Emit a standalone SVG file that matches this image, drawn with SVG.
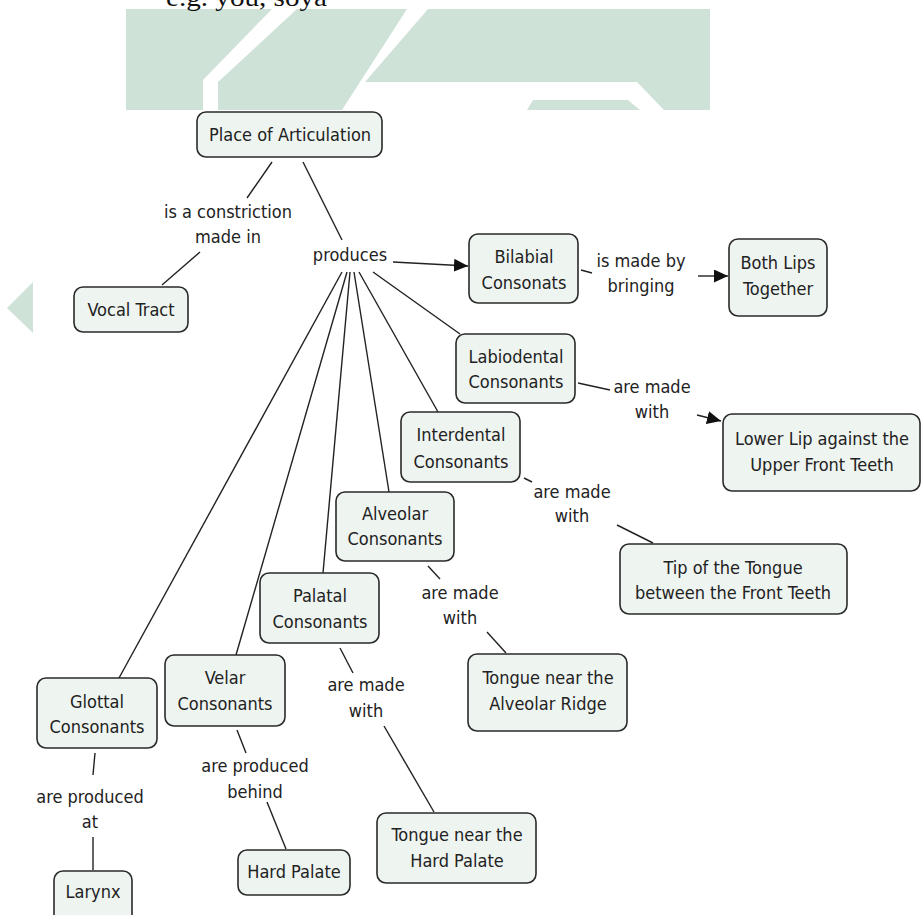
<svg xmlns="http://www.w3.org/2000/svg" width="922" height="915" viewBox="0 0 922 915">
<style>
.bg{fill:#cfe2d7}
.wh{fill:#ffffff}
.node rect{fill:#eef4f0;stroke:#2a2a2a;stroke-width:1.6}
text{font-family:'DejaVu Sans Condensed','DejaVu Sans',sans-serif;font-size:18px;fill:#222;text-anchor:middle}
.lbl{fill:#222}
.conn line{stroke:#222;stroke-width:1.4;fill:none}
.top{font-family:'Liberation Serif',serif;font-size:26px;fill:#111;text-anchor:start}
</style>
<defs>
<marker id="ah" markerUnits="userSpaceOnUse" markerWidth="15" markerHeight="13" refX="14" refY="6.5" orient="auto">
<path d="M0,0 L14,6.5 L0,13 z" fill="#111"/>
</marker>
</defs>
<rect width="922" height="915" fill="#ffffff"/>
<g id="watermark">
<rect class="bg" x="126" y="9" width="584" height="101"/>
<polygon class="wh" points="272,9 297,9 218,82 218,110 203,110 203,80"/>
<polygon class="wh" points="407,9 428,9 365,82 637,82 664,110 640,110 628,100 533,100 527,110 342,110"/>
<polygon class="bg" points="33,282 7,308 33,333"/>
</g>
<text class="top" x="166" y="6" textLength="161" lengthAdjust="spacingAndGlyphs">e.g. you, soya</text>
<g class="conn" id="connectors">
<line x1="272" y1="162" x2="247" y2="198"/>
<line x1="200" y1="252" x2="162" y2="285"/>
<line x1="303" y1="162" x2="342" y2="240"/>
<line x1="393" y1="262" x2="468" y2="266" marker-end="url(#ah)"/>
<line x1="581" y1="270" x2="592" y2="273"/>
<line x1="698" y1="276" x2="728" y2="276" marker-end="url(#ah)"/>
<line x1="578" y1="383" x2="610" y2="390"/>
<line x1="697" y1="415" x2="721" y2="421" marker-end="url(#ah)"/>
<line x1="373" y1="272" x2="460" y2="334"/>
<line x1="359" y1="272" x2="438" y2="412"/>
<line x1="354" y1="272" x2="389" y2="492"/>
<line x1="350" y1="272" x2="323" y2="573"/>
<line x1="347" y1="272" x2="236" y2="655"/>
<line x1="342" y1="272" x2="119" y2="678"/>
<line x1="524" y1="478" x2="532" y2="482"/>
<line x1="617" y1="525" x2="653" y2="543"/>
<line x1="428" y1="566" x2="440" y2="579"/>
<line x1="487" y1="632" x2="506" y2="653"/>
<line x1="340" y1="648" x2="353" y2="673"/>
<line x1="384" y1="726" x2="434" y2="812"/>
<line x1="237" y1="730" x2="246" y2="753"/>
<line x1="267" y1="802" x2="286" y2="849"/>
<line x1="95" y1="753" x2="93" y2="775"/>
<line x1="93" y1="837" x2="93" y2="870"/>
</g>
<g class="lbl" id="link-labels">
<text x="228" y="218">is a constriction</text><text x="228" y="243">made in</text>
<text x="350" y="261">produces</text>
<text x="641" y="267">is made by</text><text x="641" y="292">bringing</text>
<text x="652" y="393">are made</text><text x="652" y="418">with</text>
<text x="572" y="498">are made</text><text x="572" y="522">with</text>
<text x="460" y="599">are made</text><text x="460" y="624">with</text>
<text x="366" y="691">are made</text><text x="366" y="717">with</text>
<text x="255" y="772">are produced</text><text x="255" y="798">behind</text>
<text x="90" y="803">are produced</text><text x="90" y="828">at</text>
</g>
<g class="node" id="n-place"><rect x="197" y="112" width="185" height="45" rx="9"/><text x="290" y="141">Place of Articulation</text></g>
<g class="node" id="n-vocal"><rect x="74" y="287" width="114" height="45" rx="9"/><text x="131" y="316">Vocal Tract</text></g>
<g class="node" id="n-bilabial"><rect x="469" y="234" width="109" height="69" rx="9"/><text x="524" y="263">Bilabial</text><text x="524" y="289">Consonats</text></g>
<g class="node" id="n-bothlips"><rect x="729" y="239" width="98" height="77" rx="9"/><text x="778" y="269">Both Lips</text><text x="778" y="295">Together</text></g>
<g class="node" id="n-labio"><rect x="456" y="334" width="119" height="69" rx="9"/><text x="516" y="363">Labiodental</text><text x="516" y="388">Consonants</text></g>
<g class="node" id="n-lowerlip"><rect x="723" y="414" width="197" height="77" rx="9"/><text x="822" y="445">Lower Lip against the</text><text x="822" y="471">Upper Front Teeth</text></g>
<g class="node" id="n-inter"><rect x="401" y="412" width="119" height="70" rx="9"/><text x="461" y="441">Interdental</text><text x="461" y="468">Consonants</text></g>
<g class="node" id="n-tip"><rect x="620" y="544" width="227" height="70" rx="9"/><text x="733" y="574">Tip of the Tongue</text><text x="733" y="599">between the Front Teeth</text></g>
<g class="node" id="n-alveolar"><rect x="336" y="492" width="118" height="69" rx="9"/><text x="395" y="520">Alveolar</text><text x="395" y="545">Consonants</text></g>
<g class="node" id="n-palatal"><rect x="260" y="573" width="119" height="70" rx="9"/><text x="320" y="602">Palatal</text><text x="320" y="628">Consonants</text></g>
<g class="node" id="n-ridge"><rect x="468" y="654" width="159" height="77" rx="9"/><text x="548" y="684">Tongue near the</text><text x="548" y="710">Alveolar Ridge</text></g>
<g class="node" id="n-velar"><rect x="165" y="655" width="120" height="71" rx="9"/><text x="225" y="684">Velar</text><text x="225" y="710">Consonants</text></g>
<g class="node" id="n-glottal"><rect x="37" y="678" width="120" height="70" rx="9"/><text x="97" y="708">Glottal</text><text x="97" y="733">Consonants</text></g>
<g class="node" id="n-hardpalate-t"><rect x="377" y="813" width="159" height="70" rx="9"/><text x="457" y="841">Tongue near the</text><text x="457" y="867">Hard Palate</text></g>
<g class="node" id="n-hardpalate"><rect x="238" y="850" width="112" height="45" rx="9"/><text x="294" y="878">Hard Palate</text></g>
<g class="node" id="n-larynx"><rect x="54" y="871" width="78" height="56" rx="9"/><text x="93" y="898">Larynx</text></g>
</svg>
